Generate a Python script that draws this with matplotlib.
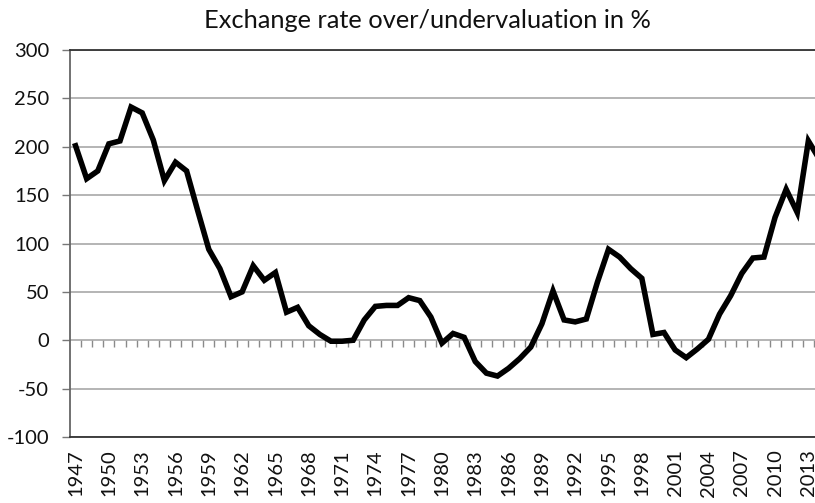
import matplotlib
matplotlib.use("Agg")
import matplotlib.pyplot as plt
import numpy as np

# years and over/undervaluation values (%)
years = list(range(1947, 2015))
values = [201, 167, 175, 203, 206, 241, 235, 207, 165, 184,
          175, 134, 94, 74, 45, 50, 77, 62, 70, 29,
          34, 15, 6, -1, -1, 0, 21, 35, 36, 36,
          44, 41, 24, -3, 7, 3, -22, -34, -37, -29,
          -19, -7, 17, 51, 21, 19, 22, 60, 94, 86,
          74, 64, 6, 8, -10, -18, -9, 1, 27, 46,
          69, 85, 86, 127, 156, 132, 206, 187]
label_years = list(range(1947, 2014, 3))
y_ticks = list(range(-100, 301, 50))

plt.rcParams['font.family'] = ['Lato', 'DejaVu Sans']

fig = plt.figure(figsize=(8.15, 5.03), dpi=100)
# plot area runs a little past the right edge, like the cropped original
ax = fig.add_axes([0.0859, 0.1312, 0.9264, 0.7694])

ax.plot(years, values, color='black', lw=4, solid_joinstyle='miter', zorder=3)

ax.set_xlim(1946.5, 2014.5)
ax.set_ylim(-100, 300)
ax.set_yticks(y_ticks)
ax.set_yticklabels([str(v) for v in y_ticks], fontsize=14.5, color='#111111')
ax.tick_params(axis='y', length=6, width=1, color='#777777', pad=9)
ax.yaxis.grid(True, color='#a0a0a0', lw=1.1)
ax.set_axisbelow(True)

ax.set_xticks(label_years)
ax.set_xticklabels([str(y) for y in label_years], rotation=90, fontsize=14.5, color='#111111')
ax.tick_params(axis='x', length=0, pad=9)

for s in ['top', 'bottom', 'left']:
    ax.spines[s].set_color('#333333')
    ax.spines[s].set_linewidth(1.3)
ax.spines['left'].set_color('#666666')
ax.spines['right'].set_visible(False)

# category tick marks sit on the zero line
sec = ax.secondary_xaxis(0.25)
sec.set_xticks(np.arange(1947.5, 2014.5, 1))
sec.set_xticklabels([])
sec.tick_params(axis='x', length=5, width=1, color='#8a8a8a', direction='out')
sec.spines['bottom'].set_visible(False)

fig.text(427 / 815, 1 - 20 / 503, 'Exchange rate over/undervaluation in %',
         ha='center', va='center', fontsize=18.3, color='#111111')

fig.savefig('out.png', dpi=100)
